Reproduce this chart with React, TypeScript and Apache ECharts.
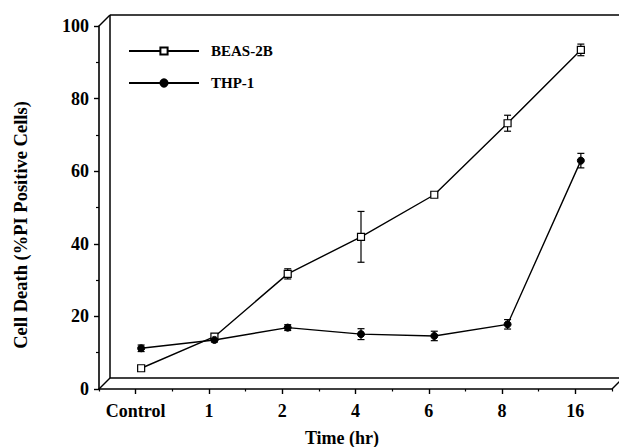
import React, { useEffect, useRef } from "react";
import * as echarts from "echarts";

const categories = ["Control", "1", "2", "4", "6", "8", "16"];
const beasValues = [4.2, 12.9, 30.2, 40.4, 52.0, 71.7, 91.9];
const beasErrors = [0, 0.6, 1.4, 7.0, 0.5, 2.2, 1.6];
const thpValues = [9.7, 12.0, 15.4, 13.6, 13.1, 16.3, 61.4];
const thpErrors = [0.9, 0.6, 0.8, 1.5, 1.3, 1.3, 2.0];
const yTicks = [0, 20, 40, 60, 80, 100];

const FONT = "'Liberation Serif', 'Times New Roman', serif";

function errData(vals: number[], errs: number[]) {
  return vals.map((v, i) => [i, v, errs[i]]).filter((d) => d[2] > 0);
}

function errRender(params: any, api: any) {
  const x = api.value(0);
  const y = api.value(1);
  const e = api.value(2);
  const top = api.coord([x, y + e]);
  const bot = api.coord([x, y - e]);
  const hw = 3.5;
  const st = { stroke: "#000", lineWidth: 1.2 };
  return {
    type: "group",
    children: [
      { type: "line", shape: { x1: top[0], y1: top[1], x2: bot[0], y2: bot[1] }, style: st },
      { type: "line", shape: { x1: top[0] - hw, y1: top[1], x2: top[0] + hw, y2: top[1] }, style: st },
      { type: "line", shape: { x1: bot[0] - hw, y1: bot[1], x2: bot[0] + hw, y2: bot[1] }, style: st },
    ],
  };
}

export default function App() {
  const ref = useRef<HTMLDivElement>(null);
  useEffect(() => {
    if (!ref.current) return;
    const chart = echarts.init(ref.current, undefined, { renderer: "svg" });
    const axisLine = { show: true, lineStyle: { color: "#000", width: 1.6 } };
    const wall = { stroke: "#000", lineWidth: 1.5 };
    chart.setOption({
      animation: false,
      backgroundColor: "#fff",
      textStyle: { fontFamily: FONT },
      grid: [
        { left: 99, right: 7, top: 26, bottom: 58 },
        { left: 104.5, right: 1.5, top: 20.5, bottom: 63.5 },
      ],
      xAxis: [
        {
          type: "category",
          gridIndex: 0,
          data: categories,
          boundaryGap: true,
          axisLine,
          axisTick: { show: true, interval: 0, alignWithLabel: true, length: 5, lineStyle: { color: "#000", width: 1.4 } },
          axisLabel: { interval: 0, color: "#000", fontFamily: FONT, fontWeight: "bold", fontSize: 18, margin: 13 },
          splitLine: { show: false },
        },
        {
          type: "category",
          gridIndex: 0,
          data: categories,
          boundaryGap: true,
          position: "bottom",
          axisLine: { show: false },
          axisTick: { show: true, interval: 0, alignWithLabel: false, length: 2.5, lineStyle: { color: "#000", width: 1.2 } },
          axisLabel: { show: false },
          splitLine: { show: false },
        },
        {
          type: "category",
          gridIndex: 1,
          data: categories,
          boundaryGap: true,
          show: false,
        },
      ],
      yAxis: [
        {
          type: "value",
          gridIndex: 0,
          min: yTicks[0],
          max: yTicks[yTicks.length - 1],
          interval: 20,
          axisLine,
          axisTick: { show: true, length: 5, lineStyle: { color: "#000", width: 1.4 } },
          minorTick: { show: true, splitNumber: 2, length: 3, lineStyle: { color: "#000", width: 1.2 } },
          axisLabel: { color: "#000", fontFamily: FONT, fontWeight: "bold", fontSize: 18, margin: 10 },
          splitLine: { show: false },
        },
        {
          type: "value",
          gridIndex: 1,
          min: 0,
          max: 100,
          show: false,
        },
      ],
      legend: {
        orient: "vertical",
        left: 128,
        top: 43.5,
        padding: 0,
        itemWidth: 70,
        itemHeight: 9,
        itemGap: 17,
        data: ["BEAS-2B", "THP-1"],
        textStyle: { color: "#000", fontFamily: FONT, fontWeight: "bold", fontSize: 15, padding: [0, 0, 0, 7] },
      },
      series: [
        {
          name: "BEAS-2B",
          type: "line",
          xAxisIndex: 2,
          yAxisIndex: 1,
          data: beasValues,
          symbol: "rect",
          symbolSize: 7,
          lineStyle: { color: "#000", width: 1.4 },
          itemStyle: { color: "#fff", borderColor: "#000", borderWidth: 1.2 },
          z: 3,
        },
        {
          name: "THP-1",
          type: "line",
          xAxisIndex: 2,
          yAxisIndex: 1,
          data: thpValues,
          symbol: "circle",
          symbolSize: 7,
          lineStyle: { color: "#000", width: 1.4 },
          itemStyle: { color: "#000", borderColor: "#000", borderWidth: 1 },
          z: 3,
        },
        {
          type: "custom",
          xAxisIndex: 2,
          yAxisIndex: 1,
          data: errData(beasValues, beasErrors),
          encode: { x: 0, y: 1 },
          renderItem: errRender,
          z: 2,
          silent: true,
        },
        {
          type: "custom",
          xAxisIndex: 2,
          yAxisIndex: 1,
          data: errData(thpValues, thpErrors),
          encode: { x: 0, y: 1 },
          renderItem: errRender,
          z: 2,
          silent: true,
        },
      ],
      graphic: [
        { type: "line", shape: { x1: 110, y1: 15, x2: 619, y2: 15 }, style: wall, silent: true },
        { type: "line", shape: { x1: 110, y1: 15, x2: 110, y2: 378 }, style: wall, silent: true },
        { type: "line", shape: { x1: 110, y1: 378, x2: 619, y2: 378 }, style: wall, silent: true },
        { type: "line", shape: { x1: 99, y1: 26, x2: 110, y2: 15 }, style: wall, silent: true },
        { type: "line", shape: { x1: 99, y1: 389, x2: 110, y2: 378 }, style: wall, silent: true },
        { type: "line", shape: { x1: 612, y1: 389, x2: 623, y2: 378 }, style: wall, silent: true },
        {
          type: "text",
          x: 21,
          y: 225,
          rotation: Math.PI / 2,
          style: {
            text: "Cell Death (%PI Positive Cells)",
            fill: "#000",
            font: `bold 18.5px ${FONT}`,
            align: "center",
            verticalAlign: "middle",
          },
        },
        {
          type: "text",
          x: 342,
          y: 438,
          style: {
            text: "Time (hr)",
            fill: "#000",
            font: `bold 18px ${FONT}`,
            align: "center",
            verticalAlign: "middle",
          },
        },
      ],
    });
    return () => chart.dispose();
  }, []);
  return <div ref={ref} style={{ position: "absolute", left: 0, top: 0, width: 619, height: 447 }} />;
}
